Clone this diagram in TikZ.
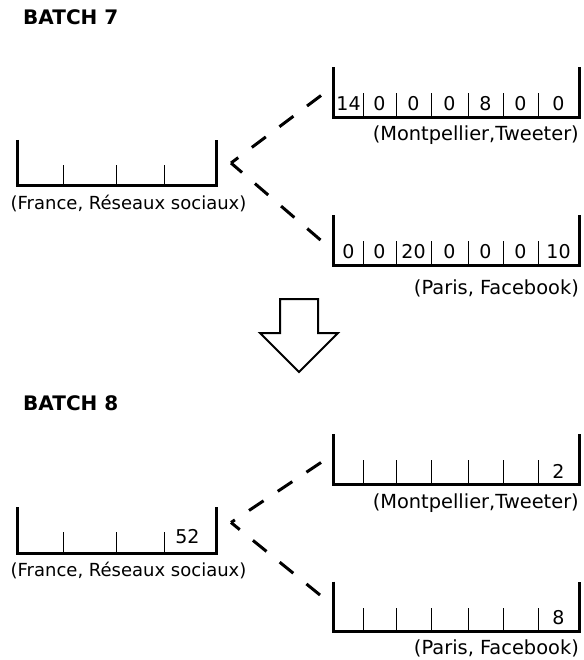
\documentclass[tikz,border=0pt]{standalone}
\usepackage{fontspec}
\setmainfont{DejaVu Sans}
\usetikzlibrary{calc}
\begin{document}
\begin{tikzpicture}[x=1pt,y=-1pt,
  binline/.style={line width=3pt},
  tick/.style={line width=1pt},
  bin/.style={draw=none,inner sep=0pt,outer sep=0pt},
  bigbin/.style={bin,minimum width=199pt,minimum height=46pt},
  longbin/.style={bin,minimum width=246pt,minimum height=50pt},
  lbl/.style={font=\fontsize{18}{20}\selectfont,inner sep=0pt},
  rlbl/.style={font=\fontsize{19.4}{22}\selectfont,inner sep=0pt,anchor=east},
  val/.style={font=\fontsize{19}{20}\selectfont,inner sep=0pt},
  title/.style={font=\bfseries\fontsize{20}{22}\selectfont,anchor=west,inner sep=0pt},
  link/.style={line width=3pt,dash pattern=on 17.5pt off 17pt},
]
\useasboundingbox (0,0) rectangle (583,660);

% ---------- Batch 7 ----------
\node[title] (t7) at (23,17) {BATCH 7};

\node[bigbin] (f7) at (116.5,163) {};
\node[longbin] (m7) at (456,92.5) {};
\node[longbin] (p7) at (456,240) {};

\foreach \b in {f7} {
  \draw[binline] (\b.north west) -- (\b.south west) -- (\b.south east) -- (\b.north east);
  \foreach \dx in {46,99,147} \draw[tick] ($(\b.south west)+(\dx,0)$) -- ++(0,-21);
}
\foreach \b in {m7,p7} {
  \draw[binline] (\b.north west) -- (\b.south west) -- (\b.south east) -- (\b.north east);
  \foreach \dx in {30,63,98,135,170,205} \draw[tick] ($(\b.south west)+(\dx,0)$) -- ++(0,-24);
}

\node[lbl] (lf7) at (128.5,203) {(France, Réseaux sociaux)};
\node[rlbl] (lm7) at (579,135) {(Montpellier,Tweeter)};
\node[rlbl] (lp7) at (579,288) {(Paris, Facebook)};

\foreach \v [count=\i] in {14,0,0,0,8,0,0} {
  \pgfmathsetmacro\cx{{348.5,379.5,413.5,449.5,485.5,520.5,558.5}[\i-1]}
  \node[val] (m7v\i) at (\cx,104) {\v};
}
\foreach \v [count=\i] in {0,0,20,0,0,0,10} {
  \pgfmathsetmacro\cx{{348.5,379.5,413.5,449.5,485.5,520.5,558.5}[\i-1]}
  \node[val] (p7v\i) at (\cx,252) {\v};
}

% links are dashed from the child bins back to the parent bin
\coordinate (k7) at ($(f7.east)+(15,0)$);
\draw[link] ($(m7.west)+(-12,3)$) -- (k7);
\draw[link] ($(p7.west)+(-12.5,0)$) -- (k7);

% ---------- transition arrow ----------
\draw[line width=2pt,fill=white,line join=miter]
  (280,299) -- (318,299) -- (318,333) -- (338,333) -- (299,372)
  -- (260,333) -- (280,333) -- cycle;

% ---------- Batch 8 ----------
\node[title] (t8) at (23,403) {BATCH 8};

\node[bigbin] (f8) at (116.5,530) {};
\node[longbin] (m8) at (456,459) {};
\node[longbin] (p8) at (456,606.5) {};

\foreach \b in {f8} {
  \draw[binline] (\b.north west) -- (\b.south west) -- (\b.south east) -- (\b.north east);
  \foreach \dx in {46,99,147} \draw[tick] ($(\b.south west)+(\dx,0)$) -- ++(0,-21);
}
\foreach \b in {m8,p8} {
  \draw[binline] (\b.north west) -- (\b.south west) -- (\b.south east) -- (\b.north east);
  \foreach \dx in {30,63,98,135,170,205} \draw[tick] ($(\b.south west)+(\dx,0)$) -- ++(0,-24);
}

\node[lbl] (lf8) at (128.5,570) {(France, Réseaux sociaux)};
\node[rlbl] (lm8) at (579,503) {(Montpellier,Tweeter)};
\node[rlbl] (lp8) at (579,648) {(Paris, Facebook)};

\node[val] (f8v) at (187.5,537) {52};
\node[val] (m8v) at (558.5,471) {2};
\node[val] (p8v) at (558.5,618) {8};

\coordinate (k8) at ($(f8.east)+(15,-7.5)$);
\draw[link] ($(m8.west)+(-12,3.5)$) -- (k8);
\draw[link] ($(p8.west)+(-13,-11.5)$) -- (k8);
\end{tikzpicture}
\end{document}
